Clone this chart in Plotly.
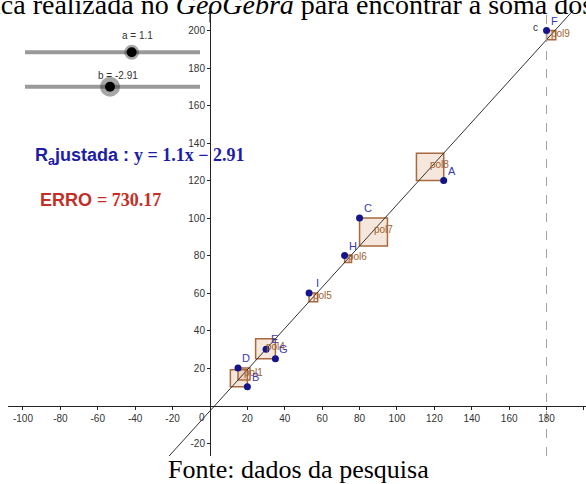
import plotly.graph_objects as go

# ---------------- data ----------------
point_names = ["A", "B", "C", "D", "E", "F", "G", "H", "I"]
point_x = [125, 20, 80, 15, 30, 180, 35, 72, 53]
point_y = [120, 10, 100, 20, 30, 200, 25, 80, 60]
slope_a = 1.1
intercept_b = -2.91
erro_value = 730.17
vertical_line_x = 180
x_tick_vals = [-100, -80, -60, -40, -20, 20, 40, 60, 80, 100, 120, 140, 160, 180, 200]
y_tick_vals = [-20, 20, 40, 60, 80, 100, 120, 140, 160, 180, 200]
# polygon names follow point order sorted by x; only some labels are visible
poly_label_visible = {"pol1", "pol4", "pol5", "pol6", "pol7", "pol8", "pol9"}

# ---------------- layout constants ----------------
FIG_W, FIG_H = 586, 484
ML, MR, MT, MB = 8, 0, 10, 28
PW, PH = FIG_W - ML - MR, FIG_H - MT - MB
X_RANGE = [-108.0, -108.0 + PW / 1.87]
Y_RANGE = [-(FIG_H - MB - 405.5) / 1.875, (405.5 - MT) / 1.875]


def px2x(px):
    return (px - ML) / PW


def py2y(py):
    return (FIG_H - MB - py) / PH


fig = go.Figure()

# squares of residuals
order = sorted(range(len(point_x)), key=lambda i: point_x[i])
sq_color = "#a8693e"
for k, i in enumerate(order):
    x, y = point_x[i], point_y[i]
    yh = slope_a * x + intercept_b
    d = yh - y
    xs = [x, x, x - d, x - d, x]
    ys = [y, yh, yh, y, y]
    fig.add_trace(go.Scatter(x=xs, y=ys, mode="lines", fill="toself",
                             fillcolor="rgba(200,120,60,0.18)",
                             line=dict(color=sq_color, width=1.5),
                             hoverinfo="skip", showlegend=False))
    name = f"pol{k + 1}"
    if name in poly_label_visible:
        fig.add_annotation(x=x - d / 2, y=y + d / 2, text=name, showarrow=False,
                           xanchor="left", yanchor="middle", xshift=-2, yshift=2,
                           font=dict(family="Liberation Sans", size=10, color="#a0602e"))

# regression line
lx = [X_RANGE[0], X_RANGE[1]]
fig.add_trace(go.Scatter(x=lx, y=[slope_a * v + intercept_b for v in lx], mode="lines",
                         line=dict(color="#333333", width=1), hoverinfo="skip",
                         showlegend=False))

# dashed vertical line x = 180
fig.add_trace(go.Scatter(x=[vertical_line_x, vertical_line_x], y=Y_RANGE, mode="lines",
                         line=dict(color="#a0a0a0", width=1, dash="dash"),
                         hoverinfo="skip", showlegend=False))
fig.add_annotation(x=vertical_line_x, y=1, xref="x", yref="paper", text="c",
                   showarrow=False, xshift=-11, yshift=-10,
                   font=dict(family="Liberation Sans", size=10, color="#333333"))

# points
fig.add_trace(go.Scatter(x=point_x, y=point_y, mode="markers",
                         marker=dict(color="#14148c", size=7),
                         hoverinfo="skip", showlegend=False))
for n, x, y in zip(point_names, point_x, point_y):
    fig.add_annotation(x=x, y=y, text=n, showarrow=False, xshift=8, yshift=10,
                       font=dict(family="Liberation Sans", size=11, color="#3a3ab0"))

# origin label
fig.add_annotation(x=0, y=0, text="0", showarrow=False, xshift=-8, yshift=-12,
                   font=dict(family="Liberation Sans", size=10, color="#333333"))

# y axis arrow
fig.add_annotation(x=0, y=1, xref="x", yref="paper", text="", showarrow=True,
                   ax=0, ay=14, arrowhead=2, arrowsize=0.8, arrowwidth=1,
                   arrowcolor="#222222")

# sliders
shapes = []
for cy, cx, r_halo, lab, lx_px, ly_px in [(52.3, 131.7, 7.5, "a = 1.1", 137, 35),
                                          (86.7, 110.0, 10, "b = -2.91", 118, 76)]:
    shapes.append(dict(type="line", xref="paper", yref="paper",
                       x0=px2x(25), x1=px2x(200), y0=py2y(cy), y1=py2y(cy),
                       line=dict(color="#9a9a9a", width=4)))
    shapes.append(dict(type="circle", xref="paper", yref="paper",
                       x0=px2x(cx - r_halo), x1=px2x(cx + r_halo),
                       y0=py2y(cy + r_halo), y1=py2y(cy - r_halo),
                       fillcolor="rgba(60,60,60,0.45)", line=dict(width=0)))
    shapes.append(dict(type="circle", xref="paper", yref="paper",
                       x0=px2x(cx - 5), x1=px2x(cx + 5), y0=py2y(cy + 5), y1=py2y(cy - 5),
                       fillcolor="black", line=dict(width=0)))
    fig.add_annotation(xref="paper", yref="paper", x=px2x(lx_px), y=py2y(ly_px),
                       text=lab, showarrow=False, xanchor="center", yanchor="middle",
                       font=dict(family="Liberation Sans", size=10, color="#333333"))

# equation text
eq = (f"<b>R<sub>a</sub>justada : <span style='font-family:Liberation Serif'>"
      f"y = {slope_a}x − {abs(intercept_b)}</span></b>")
fig.add_annotation(xref="paper", yref="paper", x=px2x(33), y=py2y(157), text=eq,
                   showarrow=False, xanchor="left", yanchor="middle",
                   font=dict(family="Liberation Sans", size=18, color="#1c1ca8"))
er = f"<b>ERRO <span style='font-family:Liberation Serif'>= {erro_value}</span></b>"
fig.add_annotation(xref="paper", yref="paper", x=px2x(38), y=py2y(200), text=er,
                   showarrow=False, xanchor="left", yanchor="middle",
                   font=dict(family="Liberation Sans", size=18, color="#c42e26"))

# top text (cut) and caption
fig.add_annotation(xref="paper", yref="paper", x=px2x(-9), y=py2y(4.5),
                   text="ica realizada no <i>GeoGebra</i> para encontrar a soma dos r",
                   showarrow=False, xanchor="left", yanchor="middle",
                   font=dict(family="Liberation Serif", size=28, color="black"))
fig.add_annotation(xref="paper", yref="paper", x=px2x(298), y=py2y(469),
                   text="Fonte: dados da pesquisa", showarrow=False,
                   xanchor="center", yanchor="middle",
                   font=dict(family="Liberation Serif", size=26, color="black"))

x_pos = (0 - Y_RANGE[0]) / (Y_RANGE[1] - Y_RANGE[0])
y_pos = (0 - X_RANGE[0]) / (X_RANGE[1] - X_RANGE[0])
fig.update_layout(
    width=FIG_W, height=FIG_H,
    margin=dict(l=ML, r=MR, t=MT, b=MB),
    paper_bgcolor="white", plot_bgcolor="white",
    shapes=shapes,
    xaxis=dict(range=X_RANGE, anchor="free", position=x_pos, showgrid=False,
               zeroline=False, showline=True, linecolor="#222222", linewidth=1,
               ticks="outside", ticklen=3, tickcolor="#222222",
               tickvals=x_tick_vals, ticktext=[str(v) for v in x_tick_vals],
               tickfont=dict(family="Liberation Sans", size=10, color="#333333"),
               fixedrange=True),
    yaxis=dict(range=Y_RANGE, anchor="free", position=y_pos, showgrid=False,
               zeroline=False, showline=True, linecolor="#222222", linewidth=1,
               ticks="outside", ticklen=3, tickcolor="#222222",
               tickvals=y_tick_vals, ticktext=[str(v) for v in y_tick_vals],
               tickfont=dict(family="Liberation Sans", size=10, color="#333333"),
               fixedrange=True),
)

fig.write_html("out.html", config={"displayModeBar": False},
               post_script="document.body.style.margin='0px';")
